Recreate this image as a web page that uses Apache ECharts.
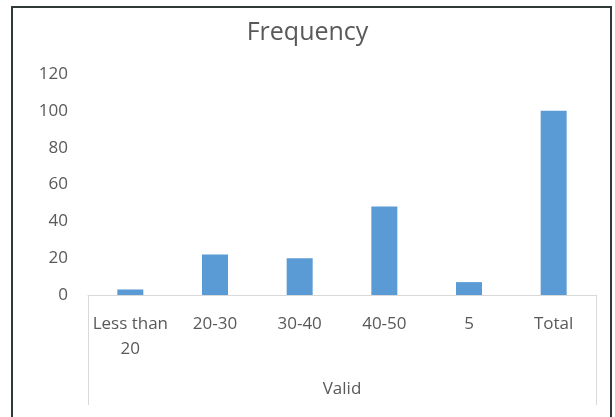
<!DOCTYPE html>
<html>
<head>
<meta charset="utf-8">
<script src="https://cdn.jsdelivr.net/npm/echarts@6/dist/echarts.min.js"></script>
<style>
html,body{margin:0;padding:0;background:#fff;}
#c{width:615px;height:417px;}
</style>
</head>
<body>
<div id="c"></div>
<script>
var titleText = 'Frequency';
var categories = ['Less than 20', '20-30', '30-40', '40-50', '5', 'Total'];
var groupLabels = ['Valid'];
var frequency = [3, 22, 20, 48, 7, 100];
var yTicks = [0, 20, 40, 60, 80, 100, 120];

var FONT = '"Open Sans", sans-serif';
var TXT = '#595959';
var LINE = '#d9d9d9';

var chart = echarts.init(document.getElementById('c'));
chart.setOption({
  animation: false,
  backgroundColor: '#fff',
  title: {
    text: titleText,
    left: 'center',
    top: 15,
    textStyle: { fontFamily: FONT, fontSize: 25, fontWeight: 'normal', color: TXT }
  },
  graphic: [{
    type: 'polyline',
    shape: { points: [[12, 430], [12, 7], [611, 7], [611, 430]] },
    style: { stroke: '#2f3a36', lineWidth: 2, fill: null }
  }],
  grid: { left: 88, right: 19, top: 74, bottom: 122 },
  xAxis: [{
    type: 'category',
    data: categories,
    position: 'bottom',
    axisLine: { show: true, lineStyle: { color: LINE, width: 1 } },
    axisTick: { show: false },
    axisLabel: {
      interval: 0,
      margin: 17,
      fontFamily: FONT, fontSize: 17, color: TXT, lineHeight: 25,
      formatter: function (v) {
        if (v.length > 10) {
          var i = v.lastIndexOf(' ');
          return v.slice(0, i) + '\n' + v.slice(i + 1);
        }
        return v;
      }
    }
  }, {
    type: 'category',
    data: groupLabels,
    position: 'bottom',
    axisLine: { show: false },
    axisTick: { show: true, length: 110, lineStyle: { color: LINE, width: 1 } },
    axisLabel: { margin: 86, fontFamily: FONT, fontSize: 17, color: TXT }
  }],
  yAxis: {
    type: 'value',
    min: yTicks[0],
    max: yTicks[yTicks.length - 1],
    interval: yTicks[1] - yTicks[0],
    axisLine: { show: false },
    axisTick: { show: false },
    splitLine: { show: false },
    axisLabel: { margin: 20, fontFamily: FONT, fontSize: 17, color: TXT }
  },
  series: [{
    type: 'bar',
    xAxisIndex: 0,
    data: frequency,
    barWidth: 26,
    itemStyle: { color: '#5b9bd5' }
  }]
});
</script>
</body>
</html>
